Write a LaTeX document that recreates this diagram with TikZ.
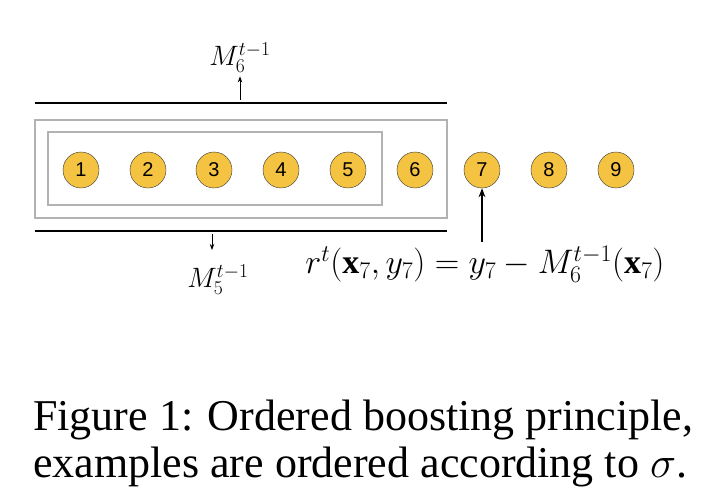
\RequirePackage{fix-cm}
\documentclass[tikz,border=0pt]{standalone}
\usepackage{fontspec}
\setmainfont{Liberation Serif}
\newfontfamily\numfont{Liberation Sans}
\usetikzlibrary{positioning, arrows.meta}
\definecolor{sampleFill}{HTML}{F5C342}
\tikzstyle{sample}=[draw=black!80, circle, minimum size=36pt, inner sep=0pt, fill=sampleFill, font=\numfont\fontsize{20}{20}\selectfont]
\tikzstyle{modelBox}=[draw=gray!60, line width=1.5pt]
\tikzstyle{caption}=[anchor=west, inner sep=0pt, font=\fontsize{44}{47}\selectfont]
\tikzstyle{label}=[font=\fontsize{28}{28}\selectfont]

\begin{document}
\begin{tikzpicture}[x=1pt, y=-1pt]
    \useasboundingbox (0, 0) rectangle (708, 492);
    \clip (0, 0) rectangle (708, 492);

    \node (s1)[sample] at (81, 170) {1};
    \node (s2)[sample] at (148, 170) {2};
    \node (s3)[sample] at (214, 170) {3};
    \node (s4)[sample] at (281, 170) {4};
    \node (s5)[sample] at (348, 170) {5};
    \node (s6)[sample] at (415, 170) {6};
    \node (s7)[sample] at (482, 170) {7};
    \node (s8)[sample] at (549, 170) {8};
    \node (s9)[sample] at (616, 170) {9};

    \draw[modelBox] (35, 120) rectangle (447, 218);
    \draw[modelBox] (48, 132) rectangle (382, 205);

    \coordinate (topL) at (35, 103);
    \coordinate (topR) at (447, 103);
    \coordinate (botL) at (35, 231);
    \coordinate (botR) at (447, 231);
    \draw[line width=1.2pt] (topL) -- (topR);
    \draw[line width=1.2pt] (botL) -- (botR);

    \coordinate (up6) at (240, 100);
    \node (m6)[label] at (240, 58) {$M_6^{t-1}$};
    \draw[-{Stealth[length=6pt]}, thick] (up6) -- (m6.south);

    \coordinate (down5) at (212, 234);
    \node (m5)[label] at (218, 280) {$M_5^{t-1}$};
    \draw[-{Stealth[length=6pt]}, thick] (down5) -- ++(0, 16);

    \node (res)[label, font=\fontsize{34}{34}\selectfont] at (485, 264) {$r^t(\mathbf{x}_7, y_7) = y_7 - M_6^{t-1}(\mathbf{x}_7)$};
    \draw[-{Stealth[length=9pt]}, line width=2pt] (res.north -| s7) -- (s7.south);

    \node (cap1)[caption] at (33, 420) {Figure 1: Ordered boosting principle,};
    \node (cap2)[caption] at (33, 467) {examples are ordered according to $\sigma$.};
\end{tikzpicture}
\end{document}
